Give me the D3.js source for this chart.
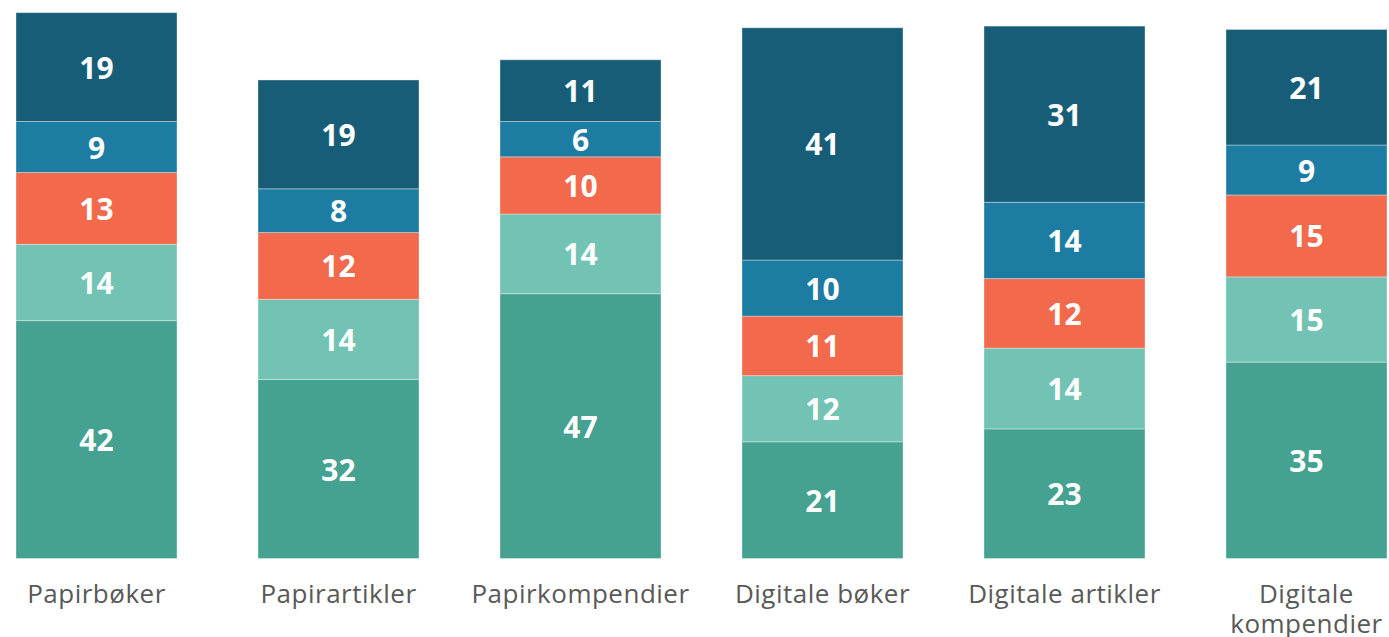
<html>
<head>
<meta charset="utf-8">
<script src="https://cdn.jsdelivr.net/npm/d3@7"></script>
<style>
  body { margin: 0; background: #fff; }
  .seg-label { fill: #fff; font-family: "Open Sans", sans-serif; font-weight: 700; font-size: 30px; }
  .cat-label { fill: #595959; font-family: "Open Sans", sans-serif; font-size: 26px; letter-spacing: 0.5px; }
</style>
</head>
<body>
<svg id="chart" width="1389" height="637"></svg>
<script>
// categories and stacked series (bottom to top)
const categories = ['Papirbøker', 'Papirartikler', 'Papirkompendier', 'Digitale bøker', 'Digitale artikler', 'Digitale kompendier'];
const series1 = [42.4, 31.9, 47.2, 20.8, 23.1, 35.0];
const series2 = [13.6, 14.3, 14.2, 11.8, 14.4, 15.2];
const series3 = [12.8, 11.9, 10.2, 10.6, 12.4, 14.6];
const series4 = [9.1, 7.8, 6.3, 10.0, 13.6, 8.9];
const series5 = [19.4, 19.4, 11.0, 41.4, 31.4, 20.6];
const colors = ['#45a190', '#72c3b3', '#f3694b', '#1d7ca2', '#175d78'];

const allSeries = [series1, series2, series3, series4, series5];
const rows = categories.map((c, i) => {
  const r = { cat: c };
  allSeries.forEach((s, k) => { r['s' + k] = s[i]; });
  return r;
});
const keys = allSeries.map((s, k) => 's' + k);
const stacked = d3.stack().keys(keys)(rows);

const svg = d3.select('#chart');
const x = d3.scaleBand().domain(categories).range([16, 1387]).paddingInner(0.3347).paddingOuter(0);
const y = d3.scaleLinear().domain([0, 100]).range([558.5, -2.5]);

const layer = svg.selectAll('g.layer').data(stacked).enter().append('g')
  .attr('class', 'layer')
  .attr('fill', (d, i) => colors[i]);

layer.selectAll('rect').data(d => d).enter().append('rect')
  .attr('x', d => x(d.data.cat))
  .attr('width', x.bandwidth())
  .attr('y', d => y(d[1]))
  .attr('height', d => y(d[0]) - y(d[1]))
  .attr('stroke', '#fff')
  .attr('stroke-opacity', 0.35)
  .attr('stroke-width', 1);

layer.selectAll('text').data(d => d).enter().append('text')
  .attr('class', 'seg-label')
  .attr('x', d => x(d.data.cat) + x.bandwidth() / 2)
  .attr('y', d => (y(d[0]) + y(d[1])) / 2)
  .attr('text-anchor', 'middle')
  .attr('dominant-baseline', 'central')
  .text(d => Math.round(d[1] - d[0]));

// category labels, wrapped like the original
const catText = svg.selectAll('text.cat-label').data(categories).enter().append('text')
  .attr('class', 'cat-label')
  .attr('text-anchor', 'middle')
  .attr('x', d => x(d) + x.bandwidth() / 2)
  .attr('y', 603);

catText.each(function(d) {
  const lines = d === 'Digitale kompendier' ? ['Digitale', 'kompendier'] : [d];
  const t = d3.select(this);
  lines.forEach((l, i) => {
    t.append('tspan')
      .attr('x', x(d) + x.bandwidth() / 2)
      .attr('dy', i === 0 ? 0 : 30)
      .text(l);
  });
});
</script>
</body>
</html>
